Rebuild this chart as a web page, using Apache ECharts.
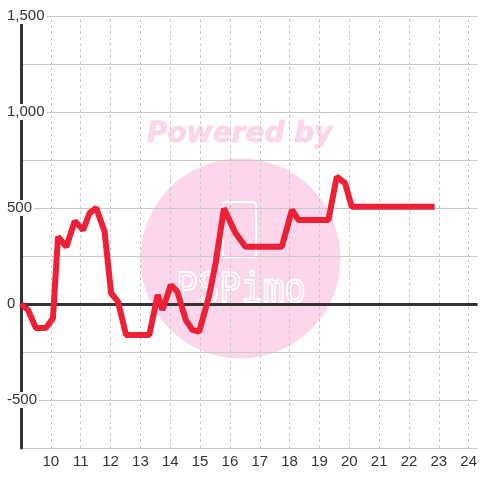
<!DOCTYPE html>
<html>
<head>
<meta charset="utf-8">
<script src="https://cdn.jsdelivr.net/npm/echarts@6/dist/echarts.min.js"></script>
<style>html,body{margin:0;padding:0;background:#fff}#c{width:480px;height:480px}</style>
</head>
<body>
<div id="c"></div>
<script>
// Data
const hours = [9.0, 9.23, 9.5, 9.83, 10.07, 10.24, 10.52, 10.8, 11.08, 11.3, 11.52, 11.8, 12.02, 12.25, 12.52, 13.3, 13.58, 13.74, 14.02, 14.24, 14.52, 14.74, 14.97, 15.3, 15.52, 15.8, 16.19, 16.52, 17.74, 18.08, 18.3, 19.3, 19.58, 19.86, 20.08, 22.86];
const values = [0, -30, -125, -125, -75, 350, 298, 432, 385, 474, 500, 377, 56, 12, -161, -161, 47, -31, 99, 64, -83, -135, -144, 40, 212, 498, 368, 298, 298, 490, 437, 437, 663, 629, 507, 507];
const xTicks = [10, 11, 12, 13, 14, 15, 16, 17, 18, 19, 20, 21, 22, 23, 24];
const yLabelStep = 500;

const gridDash = { color: '#c8c8c8', type: [3, 3], width: 1 };
const chart = echarts.init(document.getElementById('c'));
chart.setOption({
  animation: false,
  backgroundColor: '#fff',
  grid: { left: 21, right: 0, top: 16, bottom: 32 },
  xAxis: {
    type: 'value', min: 9, max: 24.3, interval: 1,
    axisLine: { show: false }, axisTick: { show: false },
    axisLabel: {
      color: '#333', fontSize: 15, fontFamily: 'Liberation Sans', margin: 6,
      formatter: v => xTicks.includes(v) ? String(v) : '',
      showMinLabel: false, showMaxLabel: false
    },
    splitLine: { show: false }
  },
  yAxis: {
    type: 'value', min: -750, max: 1500, interval: 250,
    axisLine: { show: true, lineStyle: { color: '#333', width: 3 } },
    axisTick: { show: false },
    axisLabel: {
      align: 'left', margin: 16, color: '#333', fontSize: 15, fontFamily: 'Liberation Sans',
      backgroundColor: '#fff', padding: [2, 2, 0, 2], lineHeight: 14,
      formatter: v => v % yLabelStep === 0 ? v.toLocaleString('en-US') : ''
    },
    splitLine: { show: true, lineStyle: { color: '#c8c8c8', width: 1 } }
  },
  graphic: [
    { type: 'circle', z: -10, silent: true, shape: { cx: 240.5, cy: 258.5, r: 100 }, style: { fill: '#fcd6eb' } },
    { type: 'text', z: -10, silent: true, x: 147, y: 135, style: { text: 'Powered by', fill: '#fcd6eb', stroke: '#fcd6eb', lineWidth: 0.8, font: 'italic bold 28px "DejaVu Sans"', verticalAlign: 'middle' } },
    { type: 'rect', z: -9, silent: true, shape: { x: 223, y: 202, width: 33, height: 55, r: 3 }, style: { fill: 'none', stroke: '#fff', lineWidth: 2 } },
    { type: 'text', z: -9, silent: true, x: 241, y: 291, scaleY: 1.15, style: { text: 'PSPimo', fill: 'none', stroke: '#fff', lineWidth: 1.6, font: '36px "DejaVu Sans Mono"', align: 'center', verticalAlign: 'middle' } }
  ],
  series: [
    {
      type: 'line', data: [], z: 1, silent: true,
      markLine: {
        z: 1, symbol: 'none', silent: true, label: { show: false },
        data: xTicks.map(t => ({ xAxis: t, lineStyle: gridDash }))
          .concat([{ yAxis: 0, lineStyle: { color: '#333', width: 3, type: 'solid' } }])
      }
    },
    {
      type: 'line', z: 3, showSymbol: false,
      data: hours.map((h, i) => [h, values[i]]),
      lineStyle: { color: '#ee2035', width: 6 },
      itemStyle: { color: '#ee2035' }
    }
  ]
});
</script>
</body>
</html>
